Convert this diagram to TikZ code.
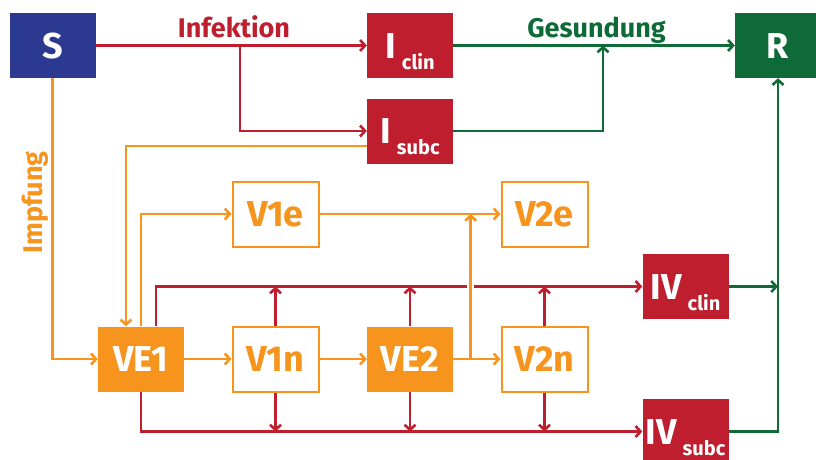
\documentclass[tikz,border=0pt]{standalone}
\usepackage{fontspec}
\setmainfont{Fira Sans}
\usetikzlibrary{arrows.meta}
\definecolor{sblue}{RGB}{43,57,144}
\definecolor{ired}{RGB}{190,30,45}
\definecolor{rgreen}{RGB}{14,107,56}
\definecolor{vorange}{RGB}{247,148,29}
\newcommand{\subtxt}[1]{\,\raisebox{-11pt}{\fontsize{20}{20}\selectfont #1}}

\begin{document}
\begin{tikzpicture}[x=1pt,y=-1pt,>={Straight Barb[length=5pt,width=11pt]},
  box/.style={minimum width=86pt,minimum height=65pt,inner sep=0pt,text height=25pt,text depth=0pt,font=\fontsize{36}{36}\selectfont\bfseries},
  cbox/.style={box,fill=#1,text=white},
  vbox/.style={box,draw=vorange,line width=2pt,fill=white,text=vorange},
  flow/.style={->,line width=2.6pt,#1},
  lbl/.style={font=\fontsize{27}{27}\selectfont\bfseries,anchor=base}]
  \useasboundingbox (0,0) rectangle (816,459);
  % compartments
  \node[cbox=sblue] (S) at (52.5,45.5) {S};
  \node[cbox=ired] (Ic) at (410,45.5) {I\subtxt{clin}};
  \node[cbox=ired] (Is) at (410,131) {I\subtxt{subc}};
  \node[cbox=rgreen] (R) at (778,45.5) {R};
  \node[vbox] (V1e) at (275.5,214) {V1e};
  \node[vbox] (V2e) at (544.5,214) {V2e};
  \node[cbox=vorange] (VE1) at (141,359) {VE1};
  \node[vbox] (V1n) at (275.5,359) {V1n};
  \node[cbox=vorange] (VE2) at (410,359) {VE2};
  \node[vbox] (V2n) at (544.5,359) {V2n};
  \node[cbox=ired] (IVc) at (685.5,286.5) {IV\subtxt{clin}};
  \node[cbox=ired] (IVs) at (685.5,431.5) {IV\subtxt{subc}};
  % infection
  \coordinate (inf) at (240,45.5);
  \draw[flow=ired] (S) -- (Ic);
  \draw[flow=ired] (inf) |- (Is);
  \node[lbl,text=ired] (inflbl) at (234,37) {Infektion};
  % recovery
  \coordinate (ges) at (603,45.5);
  \coordinate (rj) at (778,286.5);
  \draw[flow=rgreen] (Ic) -- (R);
  \draw[flow=rgreen] (Is) -| (ges);
  \draw[flow=rgreen] (IVc) -- (rj);
  \draw[flow=rgreen] (IVs) -| (R);
  \node[lbl,text=rgreen] (geslbl) at (596.5,37) {Gesundung};
  % breakthrough infections
  \coordinate (cross) at (470.7,286.5);
  \draw[flow=ired] ([xshift=15pt]VE1.north) |- (IVc);
  \draw[flow=ired] (VE1.south) |- (IVs);
  \foreach \v in {V1n,VE2,V2n}{
    \draw[flow=ired] (\v) -- (\v |- IVc);
    \draw[flow=ired] (\v) -- (\v |- IVs);
  }
  \draw[white,line width=7pt] (cross) ++(0,-2.5) -- ++(0,5);
  % vaccination
  \coordinate (vj) at (470.7,359);
  \draw[flow=vorange] (S) |- (VE1);
  \draw[flow=vorange] ([yshift=-15pt]Is.west) -| ([xshift=-15pt]VE1.north);
  \draw[flow=vorange] (VE1.north) |- (V1e);
  \draw[flow=vorange] (V1e) -- (V2e);
  \draw[flow=vorange] (VE1) -- (V1n);
  \draw[flow=vorange] (V1n) -- (VE2);
  \draw[flow=vorange] (VE2) -- (V2n);
  \draw[flow=vorange] (vj) -- (vj |- V1e);
  \node[lbl,text=vorange,rotate=90] (impflbl) at (42,202.5) {Impfung};
\end{tikzpicture}
\end{document}
